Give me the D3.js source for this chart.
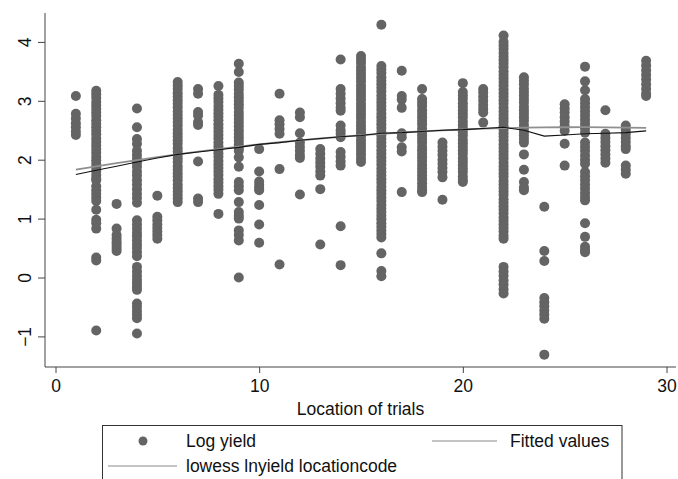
<!DOCTYPE html>
<html>
<head>
<meta charset="utf-8">
<script src="https://cdn.jsdelivr.net/npm/d3@7"></script>
<style>
    body { margin: 0; background: #fff; }
    text { font-family: "Liberation Sans", Arial, sans-serif; fill: #111; }
</style>
</head>
<body>
<div id="chart-container"></div>
<script>
// data
const locations = [1, 2, 3, 4, 5, 6, 7, 8, 9, 10, 11, 12, 13, 14, 15, 16, 17, 18, 19, 20, 21, 22, 23, 24, 25, 26, 27, 28, 29];

const logYield = [
    [3.08, 2.78, 2.70, 2.62, 2.55, 2.48, 2.42],
    [3.17, 3.11, 3.05, 2.98, 2.92, 2.86, 2.8, 2.74, 2.67, 2.61, 2.55, 2.49, 2.43, 2.36, 2.3, 2.24, 2.18, 2.12, 2.05, 1.99, 1.93, 1.87, 1.81, 1.74, 1.68, 1.65,
        1.55, 1.48, 1.42, 1.36, 1.30, 1.15, 0.98, 0.92, 0.83, 0.34, 0.29, -0.90],
    [1.25, 0.83, 0.72, 0.66, 0.6, 0.55, 0.5, 0.45],
    [2.87, 2.55, 2.35, 2.27, 2.15, 2.08, 2.01, 1.95, 1.88, 1.8, 1.73, 1.65, 1.58, 1.5, 1.42, 1.35, 1.27, 0.97, 0.9, 0.83, 0.76, 0.7, 0.63, 0.56, 0.5, 0.43, 0.36,
        0.18, 0.1, 0.03, -0.04, -0.1, -0.16, -0.21, -0.44, -0.5, -0.57, -0.63, -0.69, -0.95],
    [1.39, 1.03, 0.97, 0.9, 0.84, 0.78, 0.72, 0.66],
    [3.32, 3.26, 3.2, 3.13, 3.07, 3.01, 2.95, 2.89, 2.82, 2.76, 2.7, 2.64, 2.58, 2.51, 2.45, 2.39, 2.33, 2.27, 2.2, 2.14, 2.08, 2.02, 1.96, 1.89, 1.83, 1.77,
        1.71, 1.65, 1.58, 1.52, 1.46, 1.4, 1.34, 1.28],
    [3.2, 3.12, 2.81, 2.75, 2.64, 2.59, 1.97, 1.34, 1.28],
    [3.25, 3.1, 3.04, 2.98, 2.91, 2.85, 2.79, 2.73, 2.67, 2.6, 2.54, 2.48, 2.42, 2.36, 2.29, 2.23, 2.17, 2.11, 2.05, 1.98, 1.92, 1.86, 1.8, 1.74, 1.67,
        1.61, 1.55, 1.49, 1.42, 1.08],
    [3.63, 3.49, 3.31, 3.25, 3.19, 3.12, 3.06, 3.0, 2.94, 2.88, 2.81, 2.75, 2.69, 2.63, 2.57, 2.5, 2.44, 2.38, 2.32, 2.26, 2.2, 2.15,
        2.04, 1.88, 1.62, 1.55, 1.48, 1.28, 1.11, 1.05, 1.0, 0.8, 0.72, 0.63, 0.0],
    [2.18, 1.8, 1.63, 1.57, 1.52, 1.48, 1.23, 0.9, 0.59],
    [3.12, 2.67, 2.6, 2.52, 2.44, 1.84, 0.22],
    [2.8, 2.72, 2.45, 2.29, 2.22, 2.15, 2.08, 2.03, 1.41],
    [2.18, 2.1, 2.02, 1.95, 1.88, 1.8, 1.73, 1.5, 0.56],
    [3.7, 3.2, 3.12, 3.04, 2.96, 2.88, 2.83, 2.58, 2.5, 2.44, 2.38, 2.13, 2.05, 1.97, 1.9, 0.87, 0.21],
    [3.76, 3.7, 3.64, 3.57, 3.51, 3.45, 3.39, 3.33, 3.26, 3.2, 3.14, 3.08, 3.02, 2.95, 2.89, 2.83, 2.77, 2.71, 2.64, 2.58, 2.52, 2.46, 2.4, 2.33, 2.27,
        2.21, 2.15, 2.09, 2.02, 1.96],
    [4.29, 3.59, 3.53, 3.47, 3.4, 3.34, 3.28, 3.22, 3.16, 3.09, 3.03, 2.97, 2.91, 2.85, 2.78, 2.72, 2.66, 2.6, 2.54, 2.47, 2.41, 2.35, 2.29, 2.23, 2.16,
        2.1, 2.04, 1.98, 1.92, 1.85, 1.79, 1.73, 1.67, 1.61, 1.54, 1.48, 1.42, 1.36, 1.3, 1.23, 1.17, 1.11, 1.05, 0.99, 0.92, 0.86, 0.8, 0.74, 0.68,
        0.41, 0.11, 0.02],
    [3.51, 3.08, 3.02, 2.88, 2.45, 2.38, 2.21, 2.14, 1.45],
    [3.2, 3.03, 2.97, 2.91, 2.84, 2.78, 2.72, 2.66, 2.6, 2.53, 2.47, 2.41, 2.35, 2.29, 2.22, 2.16, 2.1, 2.04, 1.98, 1.91, 1.85, 1.79, 1.73, 1.67, 1.6,
        1.54, 1.48, 1.45],
    [2.29, 2.22, 2.15, 2.08, 2.0, 1.93, 1.86, 1.79, 1.7, 1.32],
    [3.3, 3.15, 3.09, 3.03, 2.96, 2.9, 2.84, 2.78, 2.72, 2.65, 2.59, 2.53, 2.47, 2.41, 2.34, 2.28, 2.22, 2.16, 2.1, 2.03, 1.97, 1.91, 1.85, 1.79, 1.72,
        1.66, 1.62],
    [3.2, 3.14, 3.07, 3.0, 2.93, 2.86, 2.8, 2.63],
    [4.11, 4.0, 3.94, 3.88, 3.81, 3.75, 3.69, 3.63, 3.57, 3.5, 3.44, 3.38, 3.32, 3.26, 3.19, 3.13, 3.07, 3.01, 2.95, 2.88, 2.82, 2.76, 2.7, 2.64, 2.57,
        2.51, 2.45, 2.39, 2.33, 2.26, 2.2, 2.14, 2.08, 2.02, 1.95, 1.89, 1.83, 1.77, 1.71, 1.64, 1.58, 1.52, 1.46, 1.4, 1.33, 1.27, 1.21, 1.15, 1.09,
        1.02, 0.96, 0.9, 0.84, 0.78, 0.71, 0.66, 0.18, 0.1, 0.03, -0.05, -0.12, -0.2, -0.27],
    [3.4, 3.34, 3.28, 3.21, 3.15, 3.09, 3.03, 2.97, 2.9, 2.84, 2.78, 2.72, 2.66, 2.59, 2.53, 2.47, 2.41, 2.35, 2.29, 2.09, 1.83, 1.62, 1.53, 1.48],
    [1.2, 0.45, 0.28, -0.35, -0.42, -0.49, -0.56, -0.63, -0.7, -1.31],
    [2.94, 2.87, 2.8, 2.72, 2.65, 2.57, 2.49, 2.27, 1.9],
    [3.58, 3.33, 3.18, 3.03, 2.96, 2.89, 2.82, 2.75, 2.68, 2.61, 2.54, 2.46, 2.29, 2.22, 2.15, 2.07, 2.0, 1.93, 1.79, 1.72, 1.65, 1.58, 1.51, 1.44,
        1.37, 1.31, 0.92, 0.69, 0.52, 0.47, 0.43],
    [2.84, 2.44, 2.37, 2.3, 2.23, 2.16, 2.09, 2.02, 1.95],
    [2.58, 2.51, 2.44, 2.37, 2.3, 2.23, 2.18, 1.9, 1.83, 1.76],
    [3.68, 3.6, 3.52, 3.44, 3.36, 3.28, 3.2, 3.12, 3.08]
];

const fittedValues = [1.83, 1.887, 1.942, 1.994, 2.045, 2.092, 2.138, 2.181, 2.221, 2.26, 2.296, 2.329, 2.36, 2.389, 2.416, 2.44, 2.462, 2.481,
    2.498, 2.513, 2.526, 2.536, 2.543, 2.549, 2.551, 2.552, 2.55, 2.546, 2.54];

const lowessValues = [1.75, 1.82, 1.89, 1.96, 2.03, 2.09, 2.13, 2.17, 2.21, 2.26, 2.29, 2.33, 2.36, 2.39, 2.41, 2.45, 2.46, 2.48, 2.5, 2.51,
    2.53, 2.55, 2.5, 2.4, 2.42, 2.44, 2.45, 2.46, 2.49];

const xTicks = [0, 10, 20, 30];
const yTicks = [-1, 0, 1, 2, 3, 4];

// layout
const svgWidth = 678,
    svgHeight = 479,
    plot = { left: 45, right: 676, top: 13, bottom: 367 };

const svg = d3.select("#chart-container").append("svg")
    .attr("width", svgWidth)
    .attr("height", svgHeight);

svg.append("rect")
    .attr("width", svgWidth)
    .attr("height", svgHeight)
    .attr("fill", "#fff");

// scales
const xScale = d3.scaleLinear()
    .domain([0, 30])
    .range([55.5, 666.5]);
const yScale = d3.scaleLinear()
    .domain([-1, 4])
    .range([336.4, 41.9]);

// points
let points = [];
locations.forEach((loc, i) => {
    logYield[i].forEach((v) => points.push({ loc: loc, v: v }));
});

svg.append("g")
    .selectAll("circle")
    .data(points)
    .join("circle")
    .attr("cx", (d) => xScale(d.loc))
    .attr("cy", (d) => yScale(d.v))
    .attr("r", 5)
    .attr("fill", "#646464");

// fitted and lowess lines
const line = d3.line()
    .x((d, i) => xScale(locations[i]))
    .y((d) => yScale(d));

svg.append("path")
    .datum(fittedValues)
    .attr("d", line)
    .attr("fill", "none")
    .attr("stroke", "#8f8f8f")
    .attr("stroke-width", 1.8);

svg.append("path")
    .datum(lowessValues)
    .attr("d", line)
    .attr("fill", "none")
    .attr("stroke", "#111")
    .attr("stroke-width", 1.1);

// axes
const axisColor = "#444";

let yAxis = svg.append("g")
    .attr("transform", `translate(${plot.left}, 0)`)
    .call(d3.axisLeft(yScale).tickValues(yTicks).tickSize(7).tickFormat(d3.format("d")));
yAxis.select(".domain").remove();
yAxis.selectAll(".tick line").attr("stroke", axisColor);
yAxis.selectAll(".tick text")
    .attr("x", 0)
    .attr("y", -14)
    .attr("dy", null)
    .attr("transform", "rotate(-90)")
    .attr("text-anchor", "middle")
    .style("font-size", "17.5px")
    .style("fill", "#111");

let xAxis = svg.append("g")
    .attr("transform", `translate(0, ${plot.bottom})`)
    .call(d3.axisBottom(xScale).tickValues(xTicks).tickSize(6));
xAxis.select(".domain").remove();
xAxis.selectAll(".tick line").attr("stroke", axisColor);
xAxis.selectAll(".tick text")
    .attr("y", 25)
    .attr("dy", null)
    .style("font-size", "17.5px")
    .style("fill", "#111");

svg.append("line")
    .attr("x1", plot.left).attr("x2", plot.left)
    .attr("y1", plot.top).attr("y2", plot.bottom)
    .attr("stroke", axisColor);
svg.append("line")
    .attr("x1", plot.left).attr("x2", plot.right)
    .attr("y1", plot.bottom).attr("y2", plot.bottom)
    .attr("stroke", axisColor);

// axis title
svg.append("text")
    .attr("x", (plot.left + plot.right) / 2)
    .attr("y", 415)
    .attr("text-anchor", "middle")
    .style("font-size", "17.5px")
    .text("Location of trials");

// legend
let legend = svg.append("g");
legend.append("rect")
    .attr("x", 102.5)
    .attr("y", 425.5)
    .attr("width", 519.5)
    .attr("height", 70)
    .attr("fill", "#fff")
    .attr("stroke", "#333");

legend.append("circle")
    .attr("cx", 143)
    .attr("cy", 441)
    .attr("r", 4.5)
    .attr("fill", "#646464");
legend.append("text")
    .attr("x", 186)
    .attr("y", 447)
    .style("font-size", "17.5px")
    .text("Log yield");

legend.append("line")
    .attr("x1", 432).attr("x2", 497)
    .attr("y1", 441).attr("y2", 441)
    .attr("stroke", "#8a8a8a")
    .attr("stroke-width", 1.2);
legend.append("text")
    .attr("x", 510)
    .attr("y", 447)
    .style("font-size", "17.5px")
    .text("Fitted values");

legend.append("line")
    .attr("x1", 108).attr("x2", 177)
    .attr("y1", 466).attr("y2", 466)
    .attr("stroke", "#8a8a8a")
    .attr("stroke-width", 1.2);
legend.append("text")
    .attr("x", 186)
    .attr("y", 472)
    .style("font-size", "17.5px")
    .text("lowess lnyield locationcode");
</script>
</body>
</html>
